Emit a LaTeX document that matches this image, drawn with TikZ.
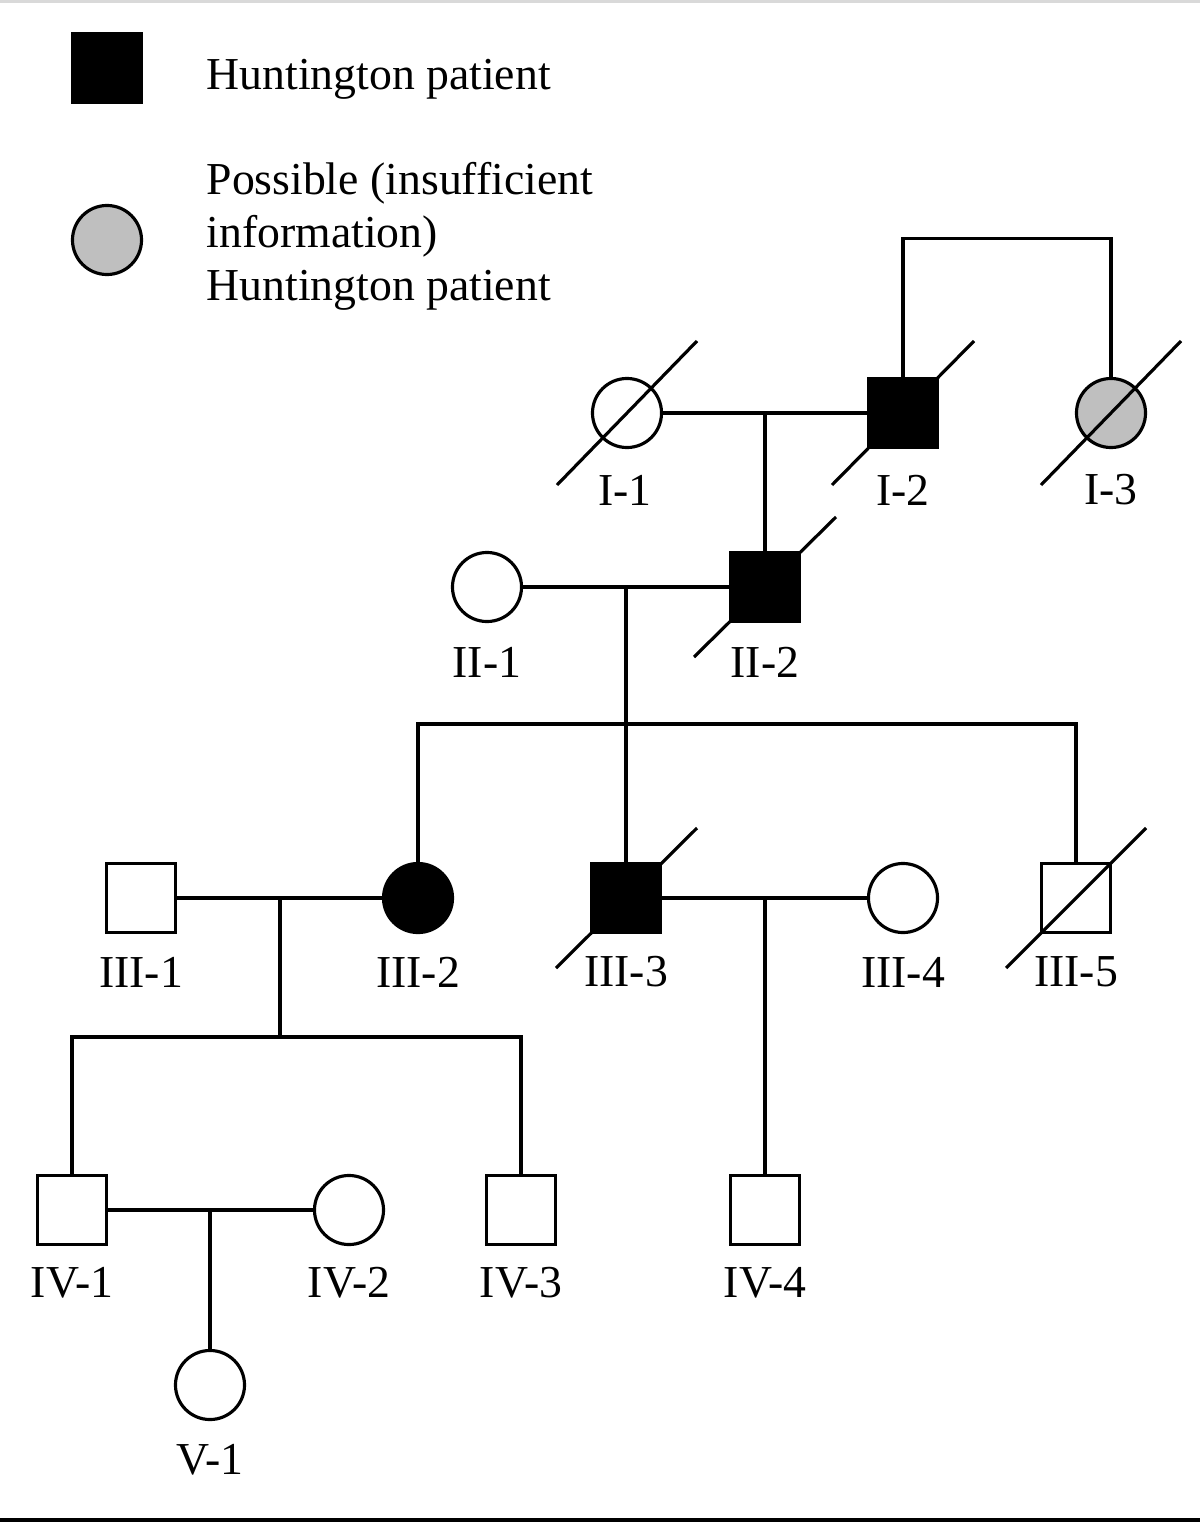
\documentclass[tikz,border=0pt]{standalone}
\usepackage{fontspec}
\setmainfont{Liberation Serif}
\begin{document}
\begin{tikzpicture}[
x=0.01cm, y=-0.01cm,
line width=0.9pt,
malenode/.style={rectangle, draw=black, fill=white, minimum size=6.9mm, inner sep=0pt},
femalenode/.style={circle, draw=black, fill=white, minimum size=6.9mm, inner sep=0pt},
affected/.style={fill=black},
possible/.style={fill=gray!50},
idlabel/.style={font=\fontsize{13}{15}\selectfont, inner sep=0pt},
keytext/.style={font=\fontsize{13}{15}\selectfont, inner sep=0pt, anchor=base west, align=left},
]
\useasboundingbox (0,0) rectangle (1200,1527);
\draw[gray!30] (0,1) -- (1200,1);
\draw[line width=1.4pt] (0,1520) -- (1200,1520);

%Key
\node[malenode, affected]    (keyaff)     at (107,68) {};
\node[femalenode, possible]  (keyposs)    at (107,240) {};
\node[keytext]  (keyafftext)  at (205,89) {Huntington patient};
\node[keytext]  (keypostext)  at (205,300) {Possible (insufficient\\information)\\Huntington patient};

%Nodes
\node[femalenode]            (i1)     at (627,413) {};
\node[malenode, affected]    (i2)     at (903,413) {};
\node[femalenode, possible]  (i3)     at (1111,413) {};
\node[femalenode]            (ii1)    at (487,587) {};
\node[malenode, affected]    (ii2)    at (765,587) {};
\node[malenode]              (iii1)   at (141,898) {};
\node[femalenode, affected]  (iii2)   at (418,898) {};
\node[malenode, affected]    (iii3)   at (626,898) {};
\node[femalenode]            (iii4)   at (903,898) {};
\node[malenode]              (iii5)   at (1076,898) {};
\node[malenode]              (iv1)    at (72,1210) {};
\node[femalenode]            (iv2)    at (349,1210) {};
\node[malenode]              (iv3)    at (521,1210) {};
\node[malenode]              (iv4)    at (765,1210) {};
\node[femalenode]            (v1)     at (210,1385) {};

%Labels
\node[idlabel] (i1l)   at (625,490) {I-1};
\node[idlabel] (i2l)   at (903,490) {I-2};
\node[idlabel] (i3l)   at (1111,490) {I-3};
\node[idlabel] (ii1l)  at (487,662) {II-1};
\node[idlabel] (ii2l)  at (765,662) {II-2};
\node[idlabel] (iii1l) at (141,972) {III-1};
\node[idlabel] (iii2l) at (418,972) {III-2};
\node[idlabel] (iii3l) at (626,972) {III-3};
\node[idlabel] (iii4l) at (903,972) {III-4};
\node[idlabel] (iii5l) at (1076,972) {III-5};
\node[idlabel] (iv1l)  at (72,1283) {IV-1};
\node[idlabel] (iv2l)  at (349,1283) {IV-2};
\node[idlabel] (iv3l)  at (521,1283) {IV-3};
\node[idlabel] (iv4l)  at (765,1283) {IV-4};
\node[idlabel] (v1l)   at (210,1460) {V-1};

%Deceased
\draw (i1.center)   +(-70,72) -- +(70,-72);
\draw (i2.center)   +(-71,72) -- +(71,-72);
\draw (i3.center)   +(-70,72) -- +(70,-72);
\draw (ii2.center)  +(-71,70) -- +(71,-70);
\draw (iii3.center) +(-70,70) -- +(71,-70);
\draw (iii5.center) +(-70,70) -- +(70,-70);

%Lines
\coordinate (m1) at (765,413);
\coordinate (m2) at (626,587);
\coordinate (s2) at (626,724);
\coordinate (m3) at (280,898);
\coordinate (s3) at (280,1037);
\coordinate (m4) at (765,898);
\coordinate (m5) at (210,1210);
\draw (i2.north) -- ++(0,-138) -| (i3.north);
\draw (i1.east) -- (i2.west);
\draw (m1) -- (ii2.north);
\draw (ii1.east) -- (ii2.west);
\draw (m2) -- (iii3.north);
\draw (iii2.north) |- (s2) -| (iii5.north);
\draw (iii1.east) -- (iii2.west);
\draw (iii3.east) -- (iii4.west);
\draw (m3) -- (s3);
\draw (iv1.north) |- (s3) -| (iv3.north);
\draw (m4) -- (iv4.north);
\draw (iv1.east) -- (iv2.west);
\draw (m5) -- (v1.north);
\end{tikzpicture}
\end{document}
